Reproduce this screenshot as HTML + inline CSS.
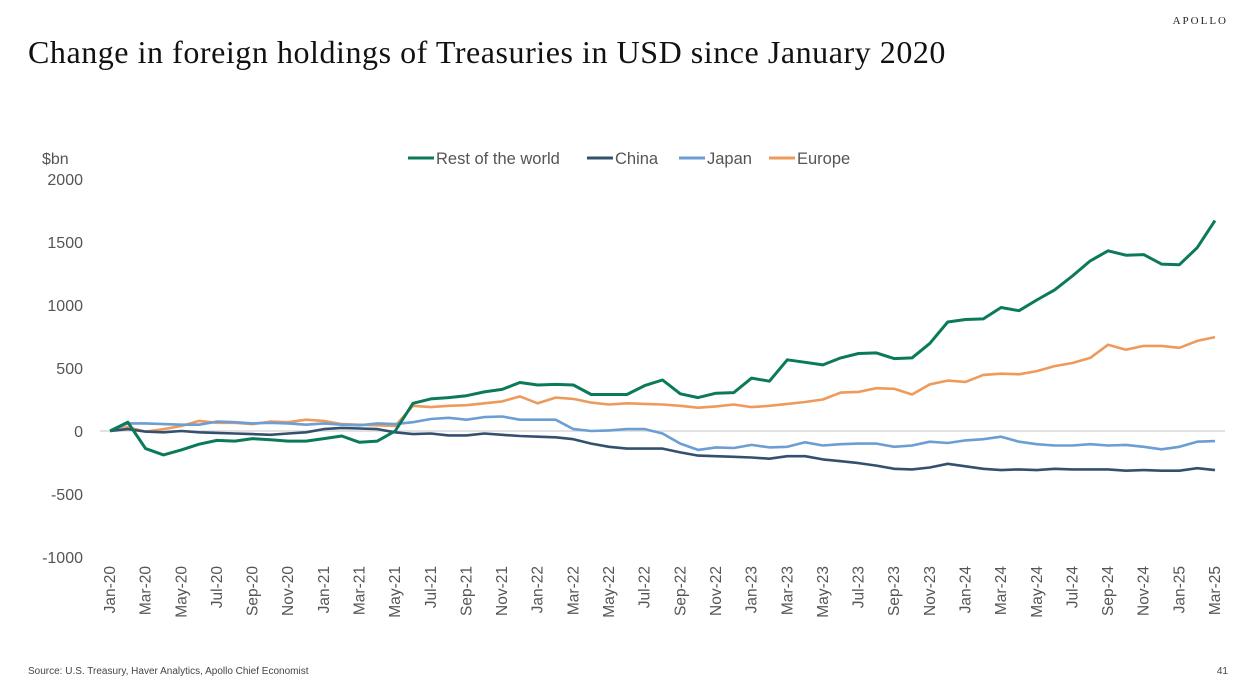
<!DOCTYPE html>
<html><head><meta charset="utf-8"><style>
body{margin:0;width:1258px;height:694px;background:#fff;overflow:hidden;font-family:"Liberation Sans",sans-serif;position:relative}
.title{position:absolute;left:28px;top:34px;font-family:"Liberation Serif",serif;font-size:32px;letter-spacing:0.55px;color:#111}
.logo{position:absolute;right:30px;top:15px;font-family:"Liberation Serif",serif;font-size:11px;letter-spacing:2px;color:#222}
.src{position:absolute;left:28px;top:666px;font-size:10px;color:#444}
.pg{position:absolute;right:30px;top:666px;font-size:10px;color:#444}
</style></head><body>
<div class="logo">APOLLO</div>
<div class="title">Change in foreign holdings of Treasuries in USD since January 2020</div>
<svg id="chart" width="1258" height="694" style="position:absolute;left:0;top:0"></svg>
<div class="src">Source: U.S. Treasury, Haver Analytics, Apollo Chief Economist</div>
<div class="pg">41</div>
<script>
const months=["Jan","Feb","Mar","Apr","May","Jun","Jul","Aug","Sep","Oct","Nov","Dec"];
const yTicks=[2000,1500,1000,500,0,-500,-1000];
const seriesNames=["Rest of the world","China","Japan","Europe"];
const seriesColors=["#0a7a5a","#34506f","#6b9ed3","#ee9a5c"];
const restOfWorld=[0,70,-140,-190,-150,-105,-75,-80,-60,-70,-80,-80,-60,-40,-90,-80,0,220,255,265,280,310,330,385,365,370,365,290,290,290,360,405,295,265,300,305,420,395,565,545,525,580,615,620,575,580,695,865,885,890,980,955,1040,1120,1230,1350,1430,1395,1400,1325,1320,1455,1670];
const china=[0,15,-5,-10,0,-10,-15,-20,-25,-30,-20,-10,15,25,20,15,-10,-25,-20,-35,-35,-20,-30,-40,-45,-50,-65,-100,-125,-140,-140,-140,-170,-195,-200,-205,-210,-220,-200,-200,-225,-240,-255,-275,-300,-305,-290,-260,-280,-300,-310,-305,-310,-300,-305,-305,-305,-315,-310,-315,-315,-295,-310];
const japan=[0,60,60,55,50,50,75,70,60,65,60,50,60,50,45,60,55,70,95,105,90,110,115,90,90,90,15,0,5,15,15,-20,-100,-150,-130,-135,-110,-130,-125,-90,-115,-105,-100,-100,-125,-115,-85,-95,-75,-65,-45,-85,-105,-115,-115,-105,-115,-110,-125,-145,-125,-85,-80];
const europe=[0,30,-5,15,40,80,65,65,55,75,70,90,80,55,50,45,40,200,190,200,205,220,235,275,220,265,255,225,210,220,215,210,200,185,195,210,190,200,215,230,250,305,310,340,335,290,370,400,390,445,455,450,475,515,540,580,685,645,675,675,660,715,745];
const series=[restOfWorld,china,japan,europe];
const NS="http://www.w3.org/2000/svg";
const svg=document.getElementById('chart');
const x0=110,x1=1215,n=restOfWorld.length;
const X=i=>x0+(x1-x0)*i/(n-1);
const Y=v=>431-v*0.126;
function mk(t,a){const e=document.createElementNS(NS,t);for(const k in a)e.setAttribute(k,a[k]);svg.appendChild(e);return e;}
const zl=mk('line',{x1:100,x2:1225,y1:Y(0),y2:Y(0),stroke:'#d9d9d9','stroke-width':1.5});


const un=mk('text',{x:42,y:164,'font-size':16,fill:'#555'});un.textContent='$bn';


yTicks.forEach(v=>{const t=mk('text',{x:83,y:Y(v)+6,'text-anchor':'end','font-size':16,fill:'#555'});t.textContent=v;

});
for(let i=0;i<n;i+=2){const lab=months[i%12]+'-'+(20+Math.floor(i/12));
const t=mk('text',{x:0,y:0,'text-anchor':'end','font-size':15.5,fill:'#555',transform:`translate(${X(i)+5},566) rotate(-90)`});t.textContent=lab;

}
[3,2,1,0].forEach(s=>{const d=series[s].map((v,i)=>(i?'L':'M')+X(i).toFixed(1)+','+Y(v).toFixed(1)).join('');
const p=mk('path',{d:d,fill:'none',stroke:seriesColors[s],'stroke-width':s==0?3:2.6,'stroke-linejoin':'round'});

});
const lx=[408,587,679,769];
seriesNames.forEach((nm,s)=>{const l=mk('line',{x1:lx[s],x2:lx[s]+26,y1:158,y2:158,stroke:seriesColors[s],'stroke-width':3});


const t=mk('text',{x:lx[s]+28,y:164,'font-size':16.5,fill:'#555'});t.textContent=nm;

});
</script>
</body></html>
